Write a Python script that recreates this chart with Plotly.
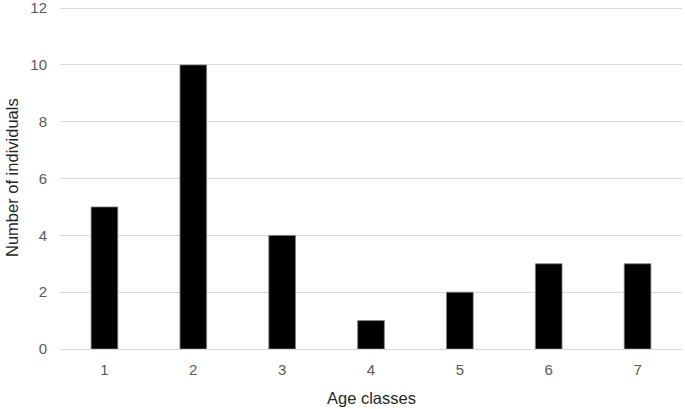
import plotly.graph_objects as go

age_classes = ["1", "2", "3", "4", "5", "6", "7"]
individuals = [5, 10, 4, 1, 2, 3, 3]

fig = go.Figure()

fig.add_trace(go.Bar(
    x=age_classes,
    y=individuals,
    marker=dict(color='black', line=dict(color='#7f7f7f', width=0.8)),
))

fig.update_layout(
    width=685,
    height=409,
    margin=dict(l=60, r=3, t=7, b=60),
    plot_bgcolor='white',
    paper_bgcolor='white',
    bargap=0.70,
    showlegend=False,
    font=dict(family='Liberation Sans, Arial, sans-serif', size=15, color='#595959'),
    xaxis=dict(
        showgrid=False,
        showline=False,
        ticks='',
        ticklabelstandoff=10,
        automargin=False,
    ),
    yaxis=dict(
        range=[0, 12.04],
        dtick=2,
        showgrid=True,
        gridcolor='#d9d9d9',
        gridwidth=1,
        zeroline=True,
        zerolinecolor='#d9d9d9',
        zerolinewidth=1,
        ticks='',
        ticklabelstandoff=12,
        ticklabeloverflow='allow',
        automargin=False,
    ),
    annotations=[
        dict(text='Age classes', x=0.5, xref='paper', y=0, yref='paper',
             xanchor='center', yanchor='middle',
             showarrow=False, font=dict(size=16.5, color='#262626')),
        dict(text='Number of individuals', textangle=-90, x=0, xref='paper',
             y=0.5, yref='paper', xanchor='center', yanchor='middle',
             showarrow=False, font=dict(size=16.5, color='#262626')),
    ],
)

# place titles in pixel terms relative to the plot area
plot_w = 685 - 60 - 3
plot_h = 409 - 7 - 60
fig.layout.annotations[0].y = -(398 - 349) / plot_h
fig.layout.annotations[1].x = -(60 - 12) / plot_w

fig.write_html("out.html", config={"displayModeBar": False},
               post_script="document.body.style.margin='0';")
